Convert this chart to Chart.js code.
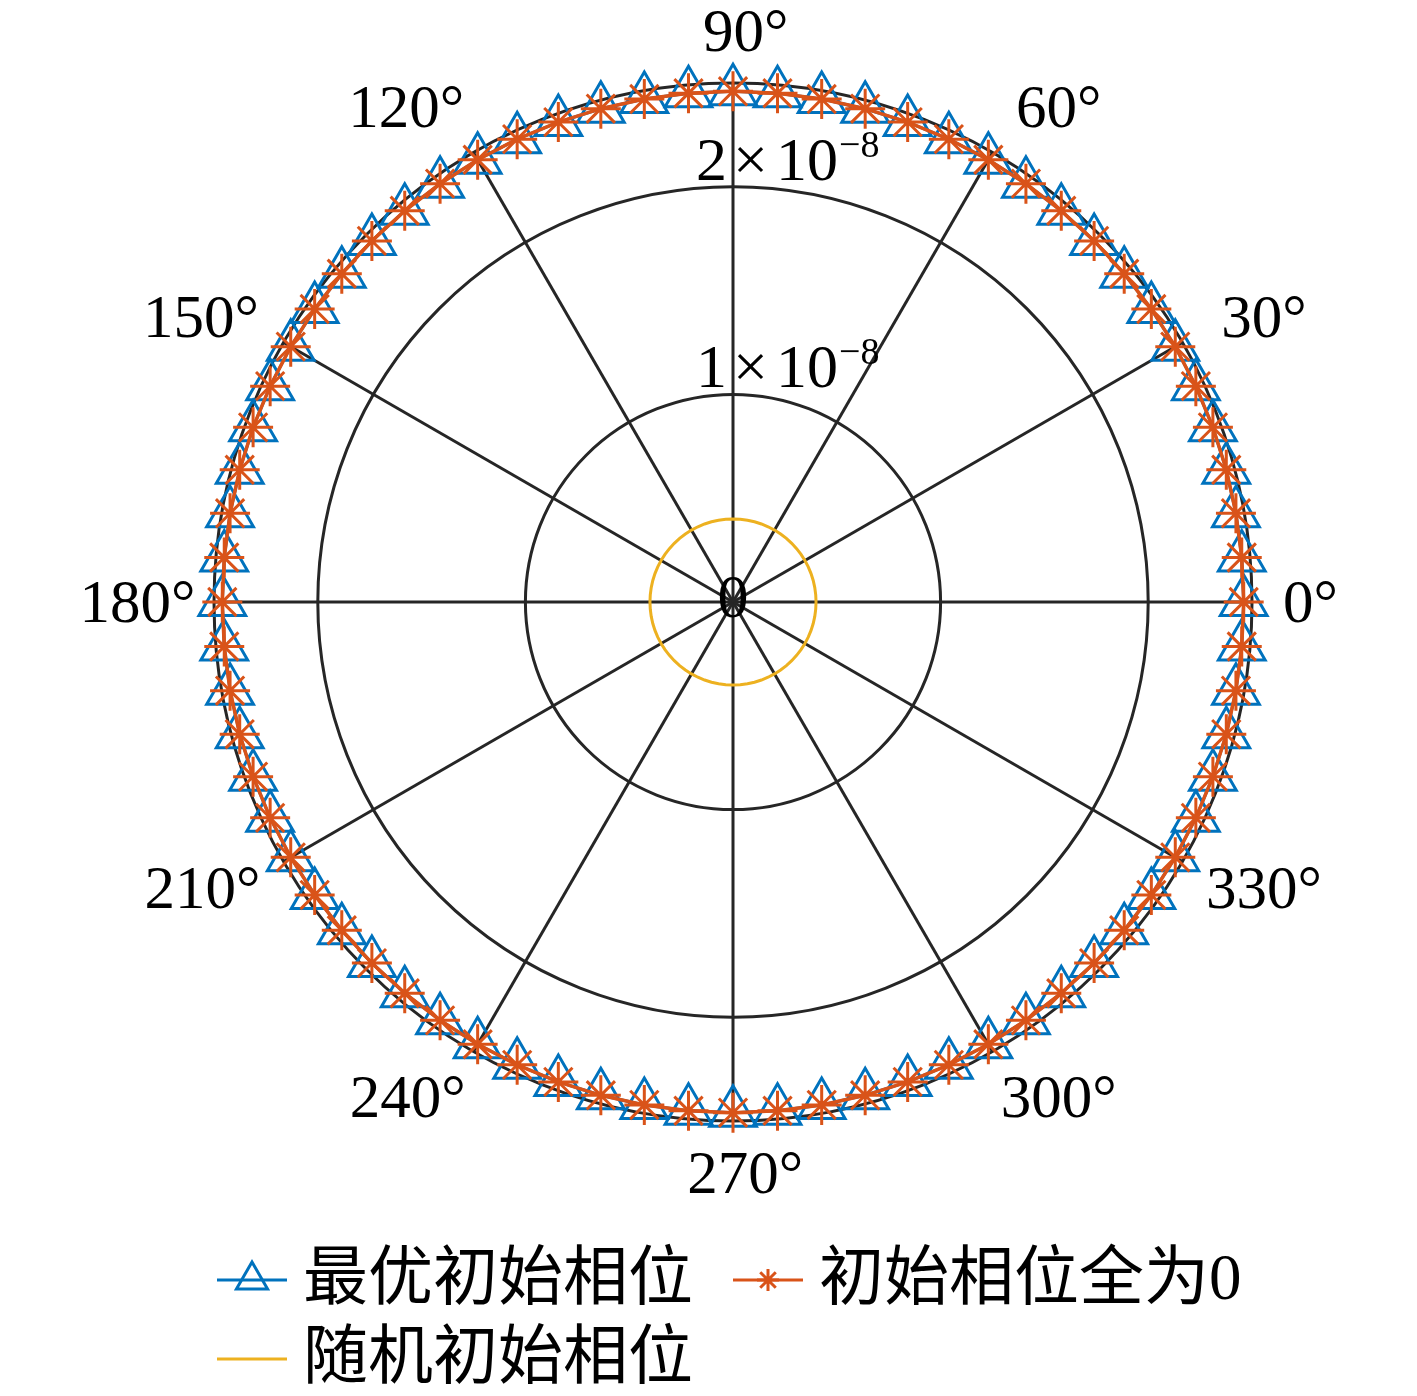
<!DOCTYPE html>
<html>
<head>
<meta charset="utf-8">
<script src="https://cdn.jsdelivr.net/npm/chart.js@4.4.1/dist/chart.umd.min.js"></script>
<style>
  html, body { margin: 0; padding: 0; background: #fff; }
  #wrap { width: 1417px; height: 1396px; position: relative; }
</style>
</head>
<body>
<div id="wrap"><canvas id="polar"></canvas></div>
<script>
// polar angle of every sample, degrees, counter-clockwise from east (MATLAB polarplot style)
const thetaDeg = [
  0, 5, 10, 15, 20, 25, 30, 35, 40, 45, 50, 55, 60, 65, 70, 75, 80, 85,
  90, 95, 100, 105, 110, 115, 120, 125, 130, 135, 140, 145, 150, 155, 160, 165, 170, 175,
  180, 185, 190, 195, 200, 205, 210, 215, 220, 225, 230, 235, 240, 245, 250, 255, 260, 265,
  270, 275, 280, 285, 290, 295, 300, 305, 310, 315, 320, 325, 330, 335, 340, 345, 350, 355
];

// 最优初始相位
const rOptimal = [
  2.46e-8, 2.46e-8, 2.46e-8, 2.46e-8, 2.46e-8, 2.46e-8, 2.46e-8, 2.46e-8, 2.46e-8, 2.46e-8, 2.46e-8, 2.46e-8,
  2.46e-8, 2.46e-8, 2.46e-8, 2.46e-8, 2.46e-8, 2.46e-8, 2.46e-8, 2.46e-8, 2.46e-8, 2.46e-8, 2.46e-8, 2.46e-8,
  2.46e-8, 2.46e-8, 2.46e-8, 2.46e-8, 2.46e-8, 2.46e-8, 2.46e-8, 2.46e-8, 2.46e-8, 2.46e-8, 2.46e-8, 2.46e-8,
  2.46e-8, 2.46e-8, 2.46e-8, 2.46e-8, 2.46e-8, 2.46e-8, 2.46e-8, 2.46e-8, 2.46e-8, 2.46e-8, 2.46e-8, 2.46e-8,
  2.46e-8, 2.46e-8, 2.46e-8, 2.46e-8, 2.46e-8, 2.46e-8, 2.46e-8, 2.46e-8, 2.46e-8, 2.46e-8, 2.46e-8, 2.46e-8,
  2.46e-8, 2.46e-8, 2.46e-8, 2.46e-8, 2.46e-8, 2.46e-8, 2.46e-8, 2.46e-8, 2.46e-8, 2.46e-8, 2.46e-8, 2.46e-8
];

// 初始相位全为0
const rZero = [
  2.46e-8, 2.46e-8, 2.46e-8, 2.46e-8, 2.46e-8, 2.46e-8, 2.46e-8, 2.46e-8, 2.46e-8, 2.46e-8, 2.46e-8, 2.46e-8,
  2.46e-8, 2.46e-8, 2.46e-8, 2.46e-8, 2.46e-8, 2.46e-8, 2.46e-8, 2.46e-8, 2.46e-8, 2.46e-8, 2.46e-8, 2.46e-8,
  2.46e-8, 2.46e-8, 2.46e-8, 2.46e-8, 2.46e-8, 2.46e-8, 2.46e-8, 2.46e-8, 2.46e-8, 2.46e-8, 2.46e-8, 2.46e-8,
  2.46e-8, 2.46e-8, 2.46e-8, 2.46e-8, 2.46e-8, 2.46e-8, 2.46e-8, 2.46e-8, 2.46e-8, 2.46e-8, 2.46e-8, 2.46e-8,
  2.46e-8, 2.46e-8, 2.46e-8, 2.46e-8, 2.46e-8, 2.46e-8, 2.46e-8, 2.46e-8, 2.46e-8, 2.46e-8, 2.46e-8, 2.46e-8,
  2.46e-8, 2.46e-8, 2.46e-8, 2.46e-8, 2.46e-8, 2.46e-8, 2.46e-8, 2.46e-8, 2.46e-8, 2.46e-8, 2.46e-8, 2.46e-8
];

// 随机初始相位
const rRandom = [
  0.40e-8, 0.40e-8, 0.40e-8, 0.40e-8, 0.40e-8, 0.40e-8, 0.40e-8, 0.40e-8, 0.40e-8, 0.40e-8, 0.40e-8, 0.40e-8,
  0.40e-8, 0.40e-8, 0.40e-8, 0.40e-8, 0.40e-8, 0.40e-8, 0.40e-8, 0.40e-8, 0.40e-8, 0.40e-8, 0.40e-8, 0.40e-8,
  0.40e-8, 0.40e-8, 0.40e-8, 0.40e-8, 0.40e-8, 0.40e-8, 0.40e-8, 0.40e-8, 0.40e-8, 0.40e-8, 0.40e-8, 0.40e-8,
  0.40e-8, 0.40e-8, 0.40e-8, 0.40e-8, 0.40e-8, 0.40e-8, 0.40e-8, 0.40e-8, 0.40e-8, 0.40e-8, 0.40e-8, 0.40e-8,
  0.40e-8, 0.40e-8, 0.40e-8, 0.40e-8, 0.40e-8, 0.40e-8, 0.40e-8, 0.40e-8, 0.40e-8, 0.40e-8, 0.40e-8, 0.40e-8,
  0.40e-8, 0.40e-8, 0.40e-8, 0.40e-8, 0.40e-8, 0.40e-8, 0.40e-8, 0.40e-8, 0.40e-8, 0.40e-8, 0.40e-8, 0.40e-8
];

// radial ticks (last one is the rlim outer circle, unlabeled)
const rTicks = [0, 1e-8, 2e-8, 2.5e-8];
const rTickLabels = ['0', '1×10^-8', '2×10^-8', ''];

const thetaTicks = [0, 30, 60, 90, 120, 150, 180, 210, 240, 270, 300, 330];
const thetaTickLabels = ['0°', '30°', '60°', '90°', '120°', '150°', '180°', '210°', '240°', '270°', '300°', '330°'];

const seriesNames = ['最优初始相位', '初始相位全为0', '随机初始相位'];

// radar goes clockwise from north, so reorder the samples to match
function cwFromNorth(t) {
  return ((90 - t) % 360 + 360) % 360;
}
const order = thetaDeg.map((t, i) => i).sort((a, b) => cwFromNorth(thetaDeg[a]) - cwFromNorth(thetaDeg[b]));
const radarLabels = order.map(i => thetaDeg[i]);
const pick = arr => order.map(i => arr[i]);

const SERIF = '"Liberation Serif", "DejaVu Serif", serif';
const legendSlots = [{x: 217, y: 1280}, {x: 733, y: 1280}, {x: 217, y: 1359}];
const legendMarkerSize = [18, 11, 0];

const polarText = {
  id: 'polarText',
  afterDraw(chart) {
    const r = chart.scales.r;
    const ctx = chart.ctx;
    const xc = r.xCenter, yc = r.yCenter;
    ctx.save();
    ctx.fillStyle = '#000';
    ctx.textAlign = 'left';
    ctx.textBaseline = 'alphabetic';

    // theta tick labels
    ctx.font = '61px ' + SERIF;
    const labR = r.drawingArea + 42;
    thetaTicks.forEach((t, k) => {
      const idx = radarLabels.indexOf(t);
      const u = r.getPointPosition(idx, 1);
      const c = u.x - xc, s = yc - u.y;
      const txt = thetaTickLabels[k];
      const m = ctx.measureText(txt);
      const w = m.actualBoundingBoxLeft + m.actualBoundingBoxRight;
      const asc = m.actualBoundingBoxAscent, desc = m.actualBoundingBoxDescent;
      let bx;
      if (Math.abs(s) < 0.01) {
        // on the horizontal axis: edge sits just outside the rim
        bx = xc + 6 + Math.sign(c) * (r.drawingArea + 27 + w / 2);
      } else {
        bx = xc + labR * c + (Math.abs(c) < 0.01 ? 12 : Math.sign(c) * 45);
      }
      const by = yc - (labR + 10) * s;
      ctx.fillText(txt, bx - w / 2 + m.actualBoundingBoxLeft, by + (asc - desc) / 2);
    });

    // radial tick labels
    rTicks.forEach((v, k) => {
      const lab = rTickLabels[k];
      if (!lab) return;
      const d = r.getDistanceFromCenterForValue(v);
      if (v === 0) {
        ctx.font = '62px ' + SERIF;
        ctx.textAlign = 'center';
        ctx.fillText(lab, xc, yc + 15);
        ctx.textAlign = 'left';
        return;
      }
      const [base, exp] = lab.split('^');
      const [mant, pow] = base.split('×');
      let x = xc - 37;
      const y = yc - d - 7;
      ctx.font = '62px ' + SERIF;
      ctx.fillText(mant, x, y);
      x += ctx.measureText(mant).width + 6;
      ctx.fillText('×', x, y);
      x += ctx.measureText('×').width + 8;
      ctx.fillText(pow, x, y);
      x += ctx.measureText(pow).width + 1;
      ctx.font = '38px ' + SERIF;
      ctx.fillText(exp.replace('-', '\u2212'), x, y - 23);
    });

    // legend
    ctx.font = '65px ' + SERIF.replace('serif', '"Noto Sans CJK SC"');
    ctx.textBaseline = 'middle';
    chart.data.datasets.forEach((ds, i) => {
      const sl = legendSlots[i];
      ctx.strokeStyle = ds.borderColor;
      ctx.lineWidth = 3;
      ctx.beginPath();
      ctx.moveTo(sl.x, sl.y);
      ctx.lineTo(sl.x + 70, sl.y);
      ctx.stroke();
      if (legendMarkerSize[i] > 0) {
        ctx.fillStyle = 'rgba(0,0,0,0)';
        Chart.helpers.drawPoint(ctx, {
          pointStyle: ds.pointStyle, radius: legendMarkerSize[i], borderWidth: 3, rotation: 0
        }, sl.x + 35, sl.y);
      }
      ctx.fillStyle = '#000';
      ctx.fillText(ds.label, sl.x + 86, sl.y + 2);
    });
    ctx.restore();
  }
};

new Chart(document.getElementById('polar'), {
  type: 'radar',
  data: {
    labels: radarLabels,
    datasets: [
      {
        label: seriesNames[0],
        data: pick(rOptimal),
        borderColor: '#0072BD',
        backgroundColor: 'rgba(0,0,0,0)',
        borderWidth: 3,
        fill: false,
        pointStyle: 'triangle',
        pointRadius: 27,
        pointBorderWidth: 3,
        pointBorderColor: '#0072BD',
        pointBackgroundColor: 'rgba(0,0,0,0)',
        order: 2,
        clip: false
      },
      {
        label: seriesNames[1],
        data: pick(rZero),
        borderColor: '#D95319',
        backgroundColor: 'rgba(0,0,0,0)',
        borderWidth: 3.5,
        fill: false,
        pointStyle: 'star',
        pointRadius: 20,
        pointBorderWidth: 3,
        pointBorderColor: '#D95319',
        pointBackgroundColor: 'rgba(0,0,0,0)',
        order: 1,
        clip: false
      },
      {
        label: seriesNames[2],
        data: pick(rRandom),
        borderColor: '#EDB120',
        backgroundColor: 'rgba(0,0,0,0)',
        borderWidth: 3,
        fill: false,
        pointRadius: 0,
        order: 0,
        clip: false
      }
    ]
  },
  options: {
    responsive: true,
    maintainAspectRatio: false,
    devicePixelRatio: 1,
    animation: false,
    events: [],
    layout: { padding: { left: 214, right: 165, top: 83, bottom: 275 } },
    elements: { line: { tension: 0 } },
    plugins: {
      legend: { display: false },
      tooltip: { enabled: false }
    },
    scales: {
      r: {
        min: 0,
        max: 2.5e-8,
        afterBuildTicks: scale => { scale.ticks = rTicks.map(v => ({ value: v })); },
        ticks: { display: false },
        pointLabels: { display: false },
        grid: { circular: true, color: '#262626', lineWidth: 3 },
        angleLines: {
          display: true,
          color: '#262626',
          lineWidth: ctx => (radarLabels[ctx.index] % 30 === 0 ? 3 : 0)
        }
      }
    }
  },
  plugins: [polarText]
});
</script>
</body>
</html>
